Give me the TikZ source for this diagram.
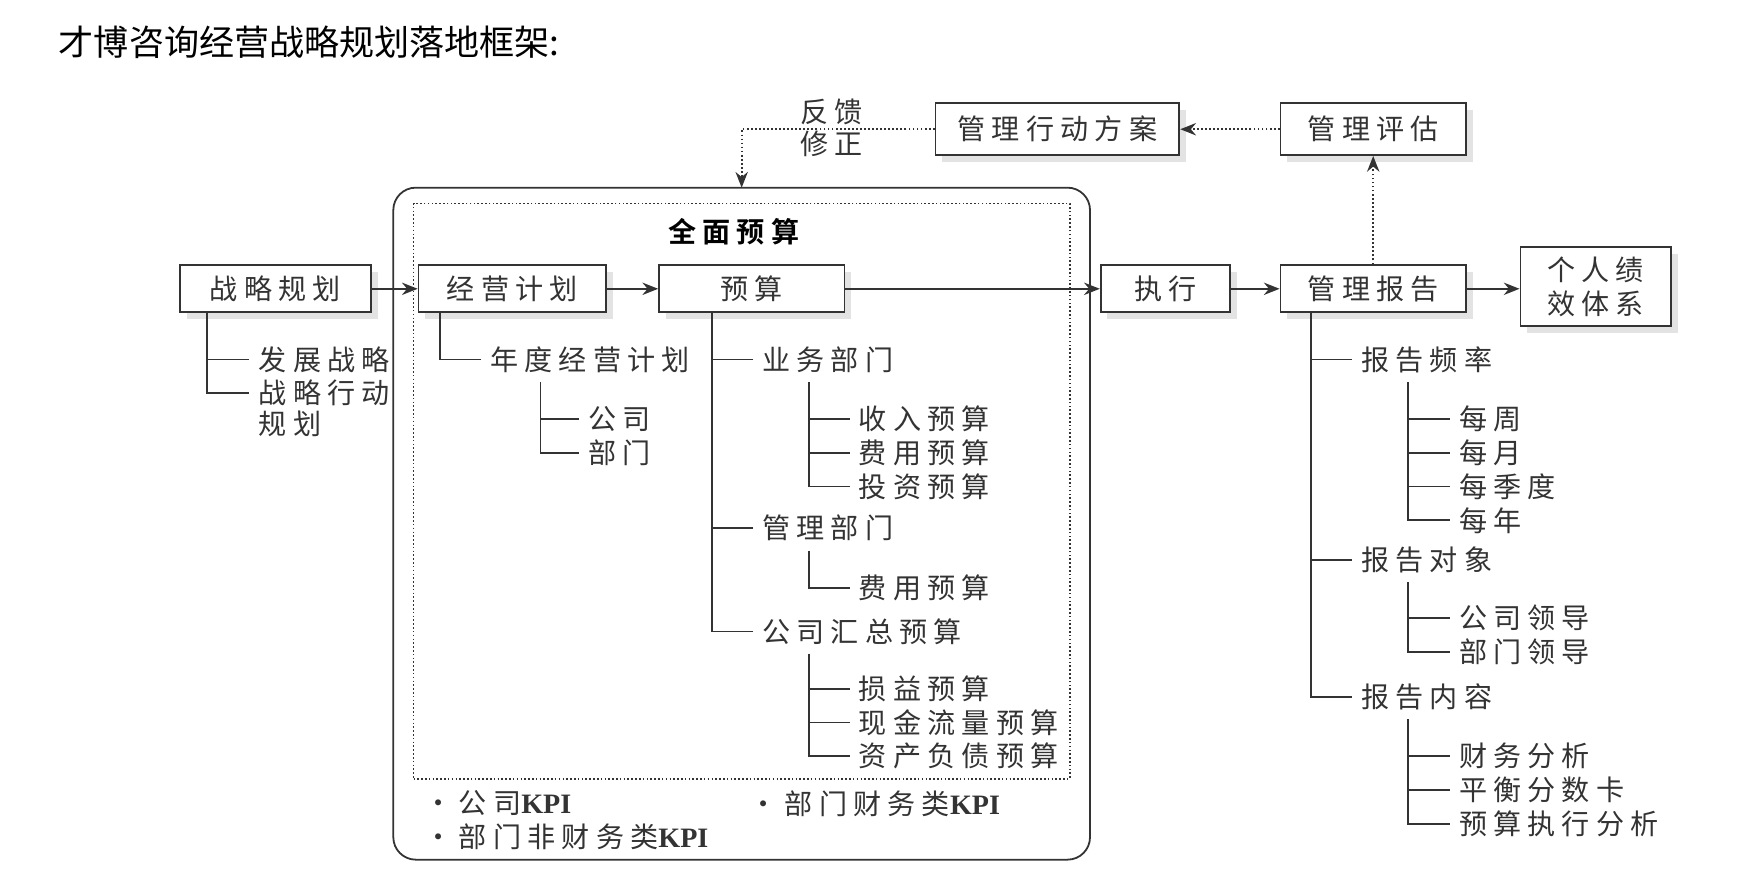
\documentclass[tikz,border=0pt]{standalone}
\usepackage{fontspec}
\setmainfont{Noto Sans CJK SC}[LetterSpace=22,BoldFont={Noto Sans CJK SC Bold}]
\newfontfamily\titlefont{Noto Sans CJK SC}
\newfontfamily\kpifont{Liberation Serif}
\usepackage{tikz}
\usetikzlibrary{arrows.meta,shadows}
\definecolor{ink}{HTML}{333333}

\tikzset{
  box/.style={draw=ink, line width=0.8pt, fill=white, minimum height=21pt, inner sep=2pt,
    font=\fontsize{12.5}{15}\selectfont, text=ink,
    drop shadow={shadow xshift=3pt, shadow yshift=-3pt, fill=black!22}},
  lbl/.style={anchor=west, inner sep=4pt, font=\fontsize{12.5}{15}\selectfont, text=ink},
  tree/.style={draw=ink, line width=0.8pt},
  flow/.style={draw=ink, line width=0.8pt, -{Stealth[length=7pt,width=5.5pt]}},
  fb/.style={draw=ink, line width=0.8pt, densely dotted, -{Stealth[length=7pt,width=5.5pt]}},
}
\newcommand{\kpi}{{\kpifont\bfseries KPI}}

\begin{document}
\begin{tikzpicture}[x=0.5pt,y=0.5pt,yscale=-1,xscale=1]
\path[use as bounding box] (0,0) rectangle (1568,792);

% Title
\node[anchor=west, inner sep=0pt, font=\titlefont\fontsize{15.6}{18}\selectfont] (bt) at (52,38) {才博咨询经营战略规划落地框架:};

%Rounded Rect: 全面预算
\node[draw=ink, line width=0.8pt, rounded corners=10pt, inner sep=0pt, outer sep=0pt,
  minimum width=310pt, minimum height=299pt] (qmys) at (660,466) {};
%Dotted Rect
\node[draw=ink, line width=0.7pt, densely dotted, inner sep=0pt, outer sep=0pt,
  minimum width=292pt, minimum height=256pt] (qmnk) at (660,437) {};
% Text Node
\node[font=\bfseries\fontsize{12.5}{15}\selectfont, text=black] (qmbt) at (653,206) {全面预算};

% Main row
\node[box, minimum width=85pt] (zlgh) at (245,257) {战略规划};
\node[box, minimum width=83.5pt] (jyjh) at (456,257) {经营计划};
\node[box, minimum width=82.5pt] (ys) at (669,257) {预算};
\node[box, minimum width=57.5pt] (zx) at (1037,257) {执行};
\node[box, minimum width=82.5pt] (glbg) at (1222,257) {管理报告};
\node[box, minimum width=67pt, minimum height=35pt, align=center] (grjx) at (1420,255) {个人绩\\效体系};

% Top row
\node[box, minimum width=108.5pt, minimum height=23pt] (xdfa) at (941,115) {管理行动方案};
\node[box, minimum width=82.5pt, minimum height=23pt] (glpg) at (1222,115) {管理评估};
\node[text=ink, font=\fontsize{12.5}{15}\selectfont] (fk) at (740,100) {反馈};
\node[text=ink, font=\fontsize{12.5}{15}\selectfont] (xz) at (740,128) {修正};

%Arrows
\draw[flow] (zlgh.east) -- (jyjh.west);
\draw[flow] (jyjh.east) -- (ys.west);
\draw[flow] (ys.east) -- (zx.west);
\draw[flow] (zx.east) -- (glbg.west);
\draw[flow] (glbg.east) -- (grjx.west |- glbg.east);
\draw[fb] (glbg.north) -- (glpg.south);
\draw[fb] (glpg.west) -- (xdfa.east);
\draw[fb] (xdfa.west) -| (qmys.north);

% Tree: 战略规划
\node[lbl] (fzzl) at (222,320) {发展战略};
\node[lbl] (zlxd) at (222,350) {战略行动};
\node[lbl] (zlgh2) at (222,377) {规划};
\foreach \n in {fzzl,zlxd}
  \draw[tree] ([xshift=12.5pt]zlgh.south west) |- (\n.west);

% Tree: 经营计划
\node[lbl] (ndjh) at (428,320) {年度经营计划};
\node[lbl] (gs) at (515,373) {公司};
\node[lbl] (bm) at (515,403) {部门};
\draw[tree] ([xshift=10pt]jyjh.south west) |- (ndjh.west);
\foreach \n in {gs,bm}
  \draw[tree] ([xshift=26.5pt]ndjh.south west) |- (\n.west);

% Tree: 预算
\node[lbl] (ywbm) at (670,320) {业务部门};
\node[lbl] (glbm) at (670,470) {管理部门};
\node[lbl] (gshz) at (670,562) {公司汇总预算};
\foreach \n in {ywbm,glbm,gshz}
  \draw[tree] ([xshift=24pt]ys.south west) |- (\n.west);
\node[lbl] (srys) at (756,373) {收入预算};
\node[lbl] (fyys) at (756,403) {费用预算};
\node[lbl] (tzys) at (756,433) {投资预算};
\foreach \n in {srys,fyys,tzys}
  \draw[tree] ([xshift=25pt]ywbm.south west) |- (\n.west);
\node[lbl] (fyys2) at (756,523) {费用预算};
\draw[tree] ([xshift=25pt]glbm.south west) |- (fyys2.west);
\node[lbl] (syys) at (756,613) {损益预算};
\node[lbl] (xjll) at (756,643) {现金流量预算};
\node[lbl] (zcfz) at (756,673) {资产负债预算};
\foreach \n in {syys,xjll,zcfz}
  \draw[tree] ([xshift=25pt]gshz.south west) |- (\n.west);

% KPI Text Nodes
\node[lbl] (gskpi) at (369,715) {·\hspace{3pt}公司\kpi};
\node[lbl] (cwkpi) at (659,715) {·\hspace{3pt}部门财务类\kpi};
\node[lbl] (fcwkpi) at (369,745) {·\hspace{3pt}部门非财务类\kpi};

% Tree: 管理报告
\node[lbl] (bgpl) at (1203,320) {报告频率};
\node[lbl] (bgdx) at (1203,498) {报告对象};
\node[lbl] (bgnr) at (1203,620) {报告内容};
\foreach \n in {bgpl,bgdx,bgnr}
  \draw[tree] ([xshift=14pt]glbg.south west) |- (\n.west);
\node[lbl] (mz) at (1290,373) {每周};
\node[lbl] (my) at (1290,403) {每月};
\node[lbl] (mjd) at (1290,433) {每季度};
\node[lbl] (mn) at (1290,463) {每年};
\foreach \n in {mz,my,mjd,mn}
  \draw[tree] ([xshift=25pt]bgpl.south west) |- (\n.west);
\node[lbl] (gsld) at (1290,550) {公司领导};
\node[lbl] (bmld) at (1290,580) {部门领导};
\foreach \n in {gsld,bmld}
  \draw[tree] ([xshift=25pt]bgdx.south west) |- (\n.west);
\node[lbl] (cwfx) at (1290,673) {财务分析};
\node[lbl] (phfs) at (1290,703) {平衡分数卡};
\node[lbl] (yszx) at (1290,733) {预算执行分析};
\foreach \n in {cwfx,phfs,yszx}
  \draw[tree] ([xshift=25pt]bgnr.south west) |- (\n.west);

\end{tikzpicture}
\end{document}
